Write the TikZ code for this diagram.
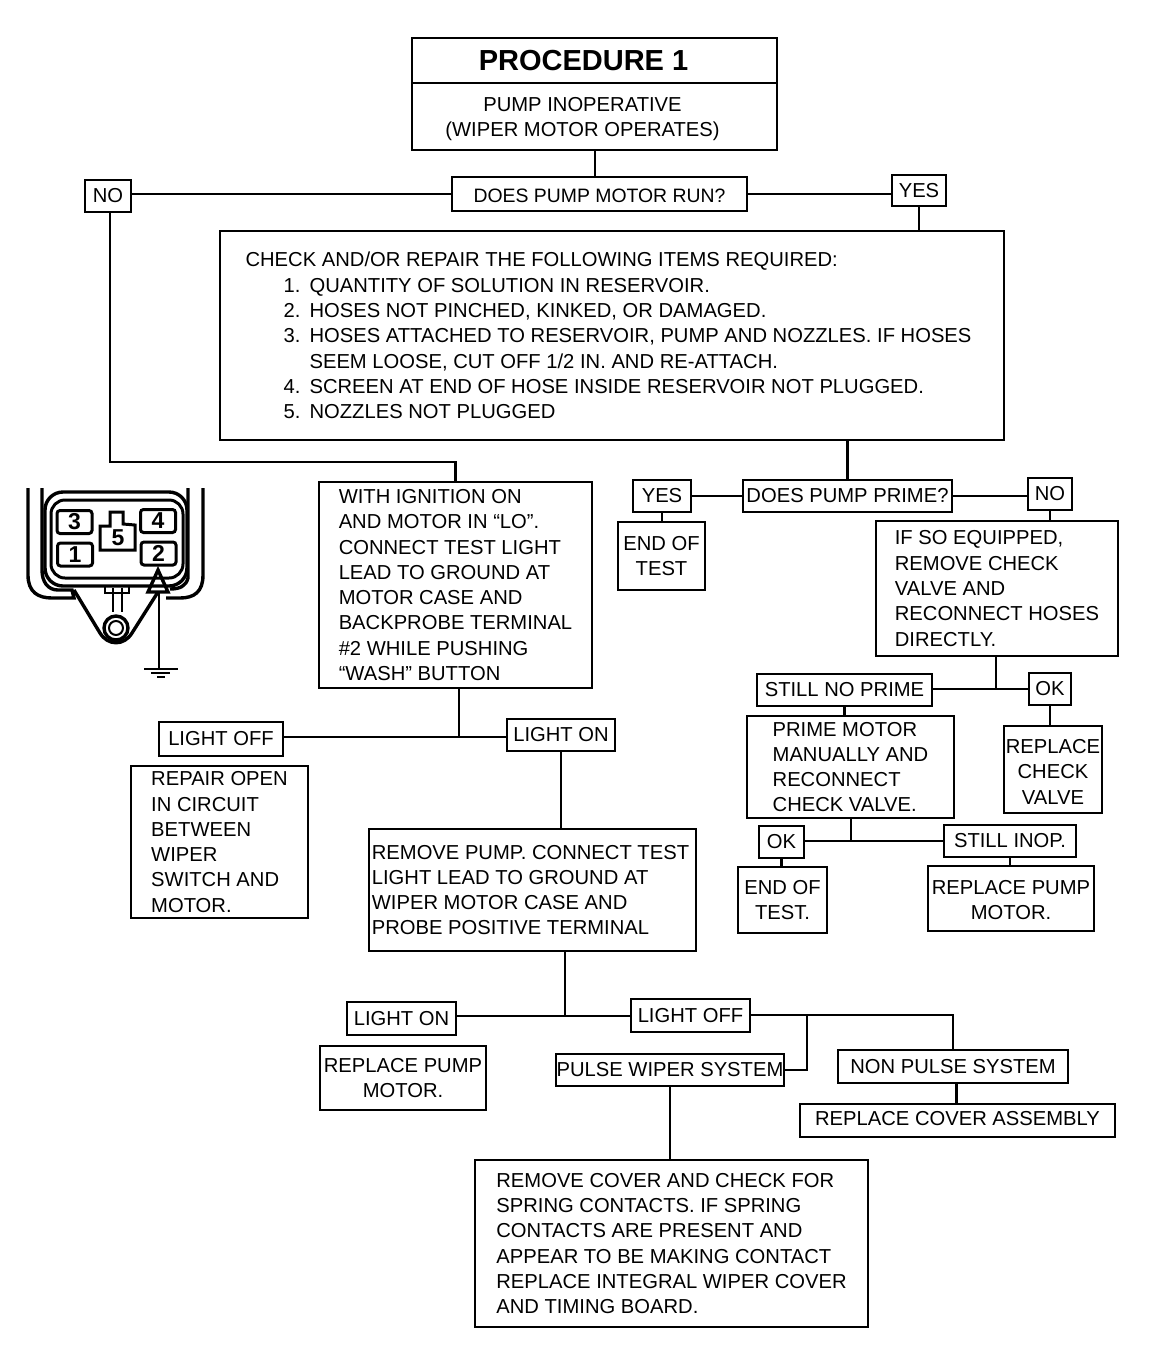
\documentclass[tikz,border=0pt]{standalone}
\usepackage{fontspec}
\setmainfont{Liberation Sans}
\usepackage{tikz}
\usetikzlibrary{positioning}

\begin{document}
\begin{tikzpicture}[
        x=0.5pt, y=-0.5pt,
        box/.style={rectangle, draw=black, line width=1.2pt, inner sep=0pt, align=left, font=\fontsize{10.1}{12.65}\selectfont},
        centerbox/.style={box, align=center},
        pin/.style={rectangle, rounded corners=1.5pt, draw=black, line width=1.5pt, inner sep=0pt, minimum width=17.5pt, minimum height=11.5pt, font=\fontsize{11.5}{12}\selectfont\bfseries},
        link/.style={line width=1.1pt},
        heavy/.style={line width=1.7pt}
    ]
        \useasboundingbox (0,0) rectangle (1152,1372);

        % Title
        \node[centerbox, minimum width=182.5pt, minimum height=22.5pt, font=\fontsize{14.5}{16}\selectfont\bfseries] (title) at (594.5,60.5) {PROCEDURE 1\hspace*{11pt}};
        \node[centerbox, minimum width=182.5pt, minimum height=33.5pt] (subtitle) at (594.5,116.5) {\rule{0pt}{9.4pt}PUMP INOPERATIVE\hspace*{12pt}\\(WIPER MOTOR OPERATES)\hspace*{12pt}};

        % Upper questions
        \node[centerbox, minimum width=147.5pt, minimum height=17pt, font=\fontsize{9.7}{12}\selectfont] (pumprun) at (599.5,194) {\rule{0pt}{8.4pt}DOES PUMP MOTOR RUN?};
        \node[centerbox, minimum width=23pt, minimum height=16pt] (runno) at (108,196) {NO};
        \node[centerbox, minimum width=27pt, minimum height=15.5pt] (runyes) at (919,190.5) {YES};
        \node[box, minimum width=392pt, minimum height=104.5pt] (check) at (612,335.5) {CHECK AND/OR REPAIR THE FOLLOWING ITEMS REQUIRED:\\
            \hspace*{19pt}\makebox[13pt][l]{1.}QUANTITY OF SOLUTION IN RESERVOIR.\\
            \hspace*{19pt}\makebox[13pt][l]{2.}HOSES NOT PINCHED, KINKED, OR DAMAGED.\\
            \hspace*{19pt}\makebox[13pt][l]{3.}HOSES ATTACHED TO RESERVOIR, PUMP AND NOZZLES. IF HOSES\rule{3.5pt}{0pt}\\
            \hspace*{32pt}SEEM LOOSE, CUT OFF 1/2 IN. AND RE-ATTACH.\\
            \hspace*{19pt}\makebox[13pt][l]{4.}SCREEN AT END OF HOSE INSIDE RESERVOIR NOT PLUGGED.\\
            \hspace*{19pt}\makebox[13pt][l]{5.}NOZZLES NOT PLUGGED};

        % Prime branch
        \node[centerbox, minimum width=104.5pt, minimum height=16pt] (prime) at (847.5,496) {DOES PUMP PRIME?};
        \node[centerbox, minimum width=29pt, minimum height=16pt] (primeyes) at (662,496) {YES};
        \node[centerbox, minimum width=43.5pt, minimum height=34pt] (primeend) at (661.5,556) {END OF\\TEST};
        \node[centerbox, minimum width=22pt, minimum height=16pt] (primeno) at (1050,494) {NO};
        \node[box, minimum width=121pt, minimum height=67.5pt] (equipped) at (997,588.5) {IF SO EQUIPPED,\\REMOVE CHECK\\VALVE AND\\RECONNECT HOSES\\DIRECTLY.};
        \node[centerbox, minimum width=87.5pt, minimum height=16pt] (noprime) at (844.5,690) {STILL NO PRIME};
        \node[centerbox, minimum width=21pt, minimum height=16pt] (primeok) at (1050,689) {OK};
        \node[centerbox, minimum width=49pt, minimum height=43.5pt] (valve) at (1053,769.5) {\rule{0pt}{9.4pt}REPLACE\\CHECK\\VALVE};
        \node[box, minimum width=103.5pt, minimum height=51pt] (manual) at (850.5,767) {PRIME MOTOR\\MANUALLY AND\\RECONNECT\\CHECK VALVE.};
        \node[centerbox, minimum width=22.5pt, minimum height=16pt] (manualok) at (781.5,842) {OK};
        \node[centerbox, minimum width=66pt, minimum height=16pt] (stillinop) at (1010,841) {STILL INOP.};
        \node[centerbox, minimum width=44.5pt, minimum height=33pt] (testend) at (782.5,900) {END OF\\TEST.};
        \node[centerbox, minimum width=83pt, minimum height=32.5pt] (newpump) at (1011,898.5) {\rule{0pt}{8.6pt}REPLACE PUMP\\MOTOR.};

        % Test light branch
        \node[box, minimum width=136.5pt, minimum height=103pt] (testlight) at (455.5,585) {WITH IGNITION ON\\AND MOTOR IN ``LO''.\\CONNECT TEST LIGHT\\LEAD TO GROUND AT\\MOTOR CASE AND\\BACKPROBE TERMINAL\\\#2 WHILE PUSHING\\``WASH'' BUTTON};
        \node[centerbox, minimum width=62pt, minimum height=17pt] (lightoff) at (221,739) {LIGHT OFF};
        \node[centerbox, minimum width=54pt, minimum height=16pt] (lighton) at (561,735) {LIGHT ON};
        \node[box, minimum width=88.5pt, minimum height=76pt] (repair) at (219.5,842) {REPAIR OPEN\\IN CIRCUIT\\BETWEEN\\WIPER\\SWITCH AND\\MOTOR.};
        \node[box, minimum width=163.5pt, minimum height=61pt] (removepump) at (532.5,890) {REMOVE PUMP. CONNECT TEST\hspace*{2pt}\\LIGHT LEAD TO GROUND AT\\WIPER MOTOR CASE AND\\PROBE POSITIVE TERMINAL};
        \node[centerbox, minimum width=54.5pt, minimum height=16.5pt] (caseon) at (401.5,1018.5) {LIGHT ON};
        \node[centerbox, minimum width=59.5pt, minimum height=16.5pt] (caseoff) at (690.5,1015.5) {LIGHT OFF};
        \node[centerbox, minimum width=83pt, minimum height=32pt] (pumpmotor) at (403,1078) {REPLACE PUMP\\MOTOR.};
        \node[centerbox, minimum width=114pt, minimum height=16pt] (pulse) at (670,1070) {PULSE WIPER SYSTEM};
        \node[centerbox, minimum width=115pt, minimum height=16.5pt] (nonpulse) at (953,1066.5) {NON PULSE SYSTEM};
        \node[centerbox, minimum width=157.5pt, minimum height=16.5pt, text depth=2.2pt] (cover) at (957.5,1120.5) {REPLACE COVER ASSEMBLY};
        \node[box, minimum width=196.5pt, minimum height=83.5pt] (springs) at (671.5,1243.5) {REMOVE COVER AND CHECK FOR\\SPRING CONTACTS. IF SPRING\\CONTACTS ARE PRESENT AND\\APPEAR TO BE MAKING CONTACT\\REPLACE INTEGRAL WIPER COVER\\AND TIMING BOARD.};

        % Connections
        \coordinate (nodrop) at (110,462);
        \coordinate (lightjoin) at (459,737);
        \coordinate (casejoin) at (565,1016);
        \coordinate (offjoin) at (807,1015);
        \coordinate (offend) at (953,1015);
        \coordinate (primejoin) at (996,689);
        \coordinate (manualjoin) at (851,841);
        \draw[link] (subtitle.south -| pumprun.north) ++(-4.5,0) -- ++(0,27);
        \draw[link] (pumprun.west) -- (pumprun.west -| runno.east);
        \draw[link] (pumprun.east) -- (pumprun.east -| runyes.west);
        \draw[link] (runyes.south) -- (runyes.south |- check.north);
        \draw[link] (runno.south -| nodrop) -- (nodrop) -- (nodrop -| testlight.north) -- (testlight.north);
        \draw[link] (check.south -| prime.north) -- (prime.north);
        \draw[link] (prime.west) -- (primeyes.east);
        \draw[link] (prime.east) -- (prime.east -| primeno.west);
        \draw[link] (primeyes.south) -- (primeyes.south |- primeend.north);
        \draw[link] (primeno.south) -- (primeno.south |- equipped.north);
        \draw[link] (equipped.south -| primejoin) -- (primejoin);
        \draw[link] (noprime.east |- primejoin) -- (primeok.west |- primejoin);
        \draw[link] (primeok.south) -- (primeok.south |- valve.north);
        \draw[link] (noprime.south) -- (noprime.south |- manual.north);
        \draw[link] (manual.south -| manualjoin) -- (manualjoin);
        \draw[link] (manualok.east |- manualjoin) -- (stillinop.west |- manualjoin);
        \draw[link] (manualok.south) -- (manualok.south |- testend.north);
        \draw[link] (stillinop.south) -- (stillinop.south |- newpump.north);
        \draw[link] (testlight.south -| lightjoin) -- (lightjoin);
        \draw[link] (lightoff.east |- lightjoin) -- (lighton.west |- lightjoin);
        \draw[link] (lighton.south) -- (lighton.south |- removepump.north);
        \draw[link] (removepump.south -| casejoin) -- (casejoin);
        \draw[link] (caseon.east |- casejoin) -- (caseoff.west |- casejoin);
        \draw[link] (caseoff.east |- offend) -- (offend) -- (nonpulse.north -| offend);
        \draw[link] (offjoin) |- (pulse.east);
        \draw[link] (nonpulse.south -| cover.north) ++(-1,0) -- ++(0,21);
        \draw[link] (pulse.south) -- (pulse.south |- springs.north);

        % Connector sketch
        \draw[heavy] (28,488) -- (28,575) .. controls (28,592) and (38,598) .. (52,598) -- (74,598) -- (72,590) -- (58,590) .. controls (48,590) and (42,582) .. (42,570) -- (42,488);
        \draw[heavy] (203,488) -- (203,575) .. controls (203,592) and (194,598) .. (180,598) -- (166,598);
        \draw[heavy] (188,488) -- (188,578) .. controls (186,586) and (180,589) .. (170,589);
        \draw[heavy, rounded corners=9pt] (45,492) rectangle (187,586);
        \draw[line width=1.5pt, rounded corners=7pt] (51,500) rectangle (183,578);
        \node[pin] (pin3) at (74.5,522) {3};
        \node[pin] (pin1) at (75,554.5) {1};
        \node[pin] (pin4) at (158,521) {4};
        \node[pin] (pin2) at (158.5,553.5) {2};
        \draw[line width=1.5pt] (110,512) -- (123,512) -- (123,524) -- (135,525) -- (135,550) -- (100,550) -- (100,526) -- (110,526) -- cycle;
        \node[inner sep=0pt, font=\fontsize{11.5}{12}\selectfont\bfseries] (pin5) at (118,537.5) {5};
        \draw[heavy] (74,590) -- (100,633) .. controls (108,646) and (124,646) .. (132,633) -- (158,592);
        \draw[line width=1.3pt] (113,588) -- (113,612);
        \draw[line width=1.3pt] (122,588) -- (122,612);
        \draw[line width=1.3pt] (105,587) -- (105,593) -- (129,593) -- (129,587);
        \draw[heavy] (116,628) circle (12);
        \draw[line width=1pt] (116,628) circle (7);
        \draw[heavy] (158,570) -- (148,592) -- (168,592) -- cycle;
        \coordinate (groundtop) at (159,592);
        \coordinate (ground) at (159,669);
        \draw[line width=0.8pt] (groundtop) -- (ground);
        \draw[line width=0.9pt] (144,669) -- (178,669);
        \draw[line width=0.9pt] (151,673) -- (170,673);
        \draw[line width=0.9pt] (157,677) -- (165,677);
    \end{tikzpicture}
\end{document}
